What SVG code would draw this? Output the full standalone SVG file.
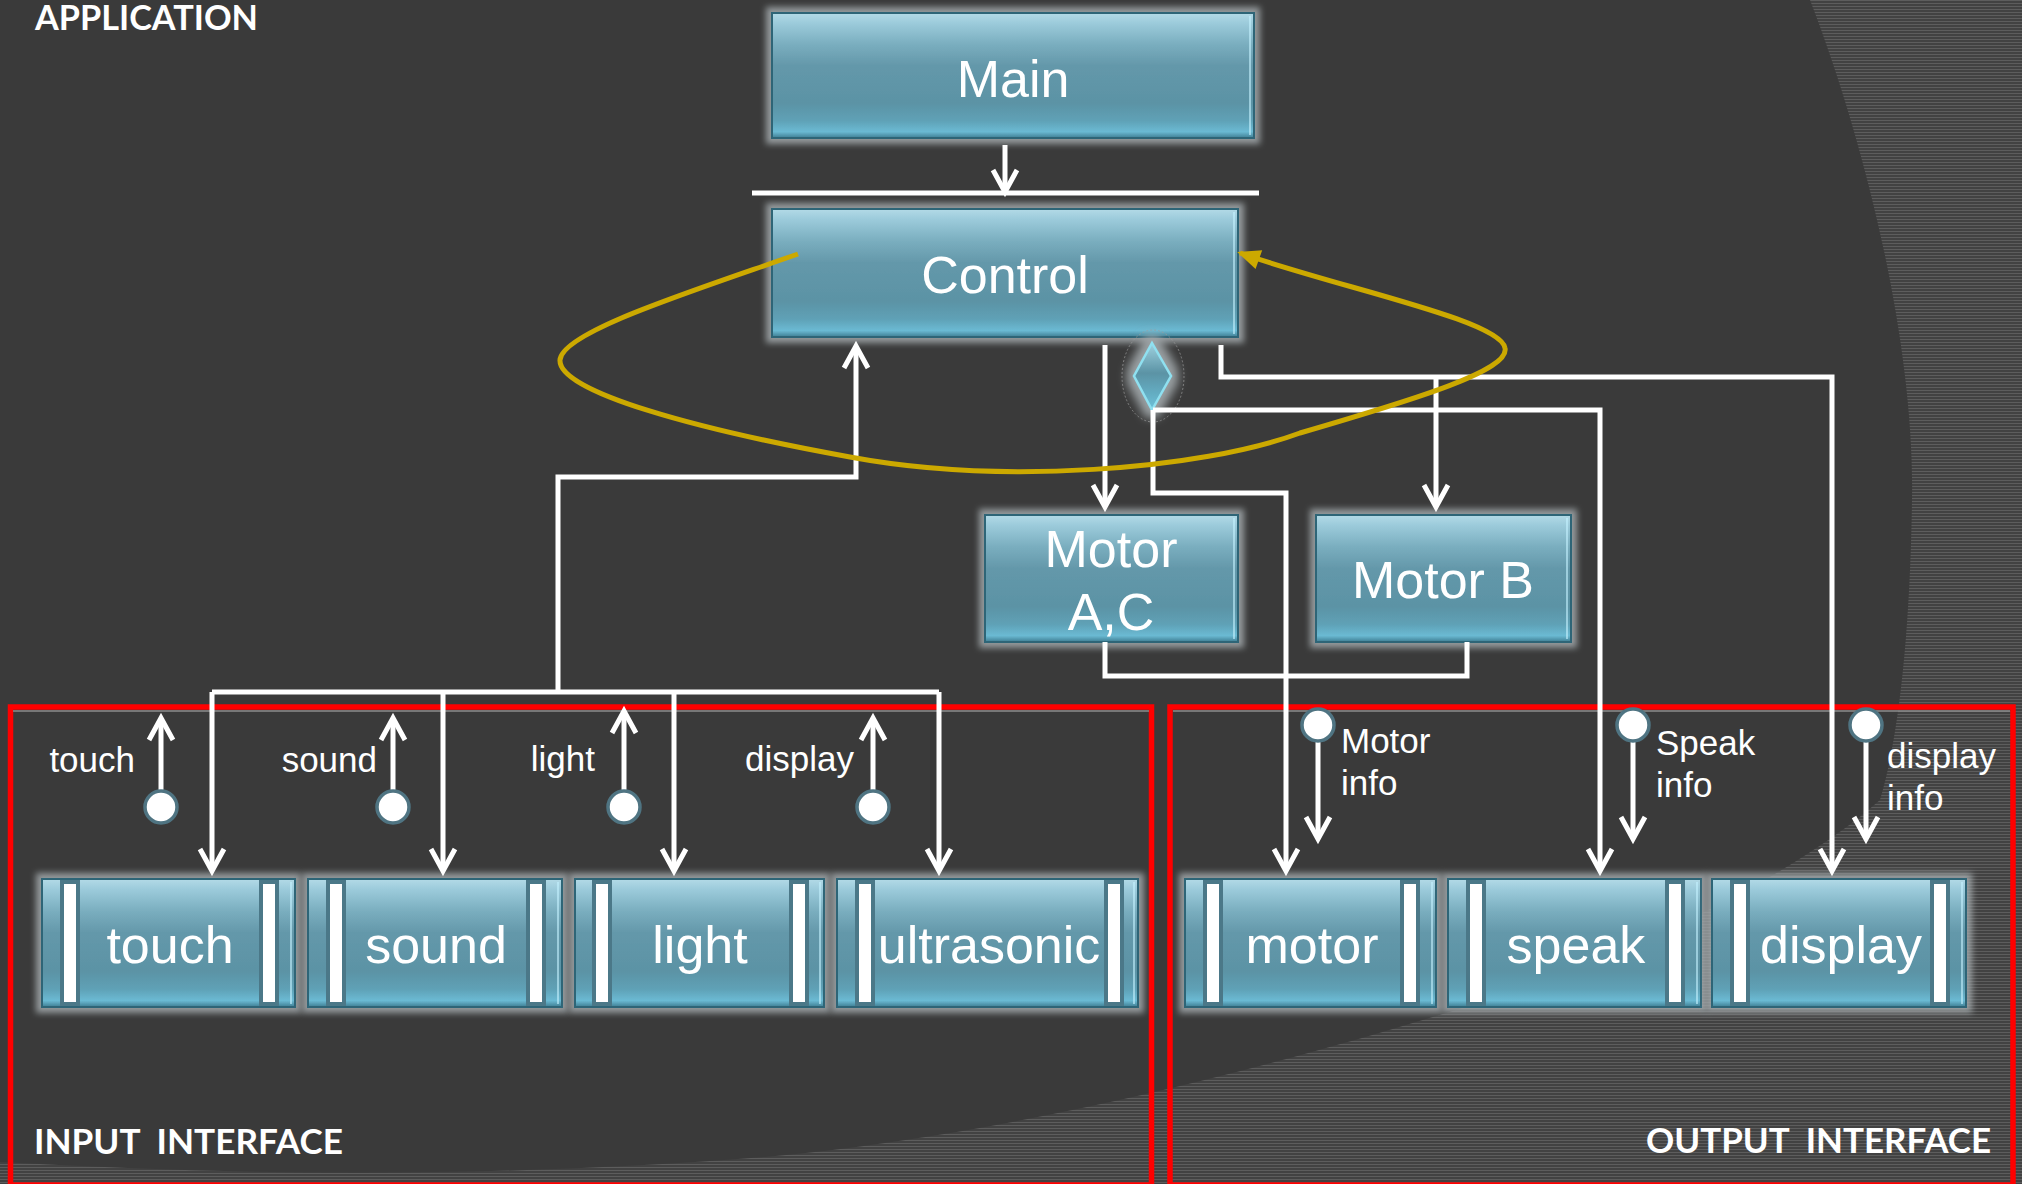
<svg xmlns="http://www.w3.org/2000/svg" width="2022" height="1184" viewBox="0 0 2022 1184">
  <defs>
    <style>
      .conn{fill:none;stroke:#ffffff;stroke-width:5;stroke-linejoin:miter}
      .arr{marker-end:url(#chev)}
      .txt{font-family:"Liberation Sans",Arial,sans-serif;fill:#ffffff}
      .big{font-size:52px;text-anchor:middle}
      .small{font-size:35px}
      .end{text-anchor:end}
      .sec{font-family:Lato,"Open Sans",sans-serif;font-weight:bold;font-size:35px;fill:#ffffff}
      .box{fill:url(#boxGrad);stroke:#2f6577;stroke-width:2}
      .barDark{fill:#4b7888}
      .barWhite{fill:#ffffff}
      .hl{stroke:#c4f2ff;stroke-width:1.5;opacity:0.8}
      .frame{fill:none;stroke:#ff0000;stroke-width:5.5}
      .frameIn{fill:none;stroke:#8c8c8c;stroke-width:1.5}
      .sensor{fill:#ffffff;stroke:#4f7482;stroke-width:3.5}
    </style>
    <linearGradient id="boxGrad" x1="0" y1="0" x2="0" y2="1">
      <stop offset="0" stop-color="#b3dae7"/>
      <stop offset="0.08" stop-color="#9ccbdb"/>
      <stop offset="0.25" stop-color="#7aaebf"/>
      <stop offset="0.42" stop-color="#6498aa"/>
      <stop offset="0.72" stop-color="#5b93a5"/>
      <stop offset="0.86" stop-color="#5fa1b6"/>
      <stop offset="0.95" stop-color="#6bbad3"/>
      <stop offset="1" stop-color="#3f7d92"/>
    </linearGradient>
    <linearGradient id="diaGrad" x1="0" y1="0" x2="0" y2="1">
      <stop offset="0" stop-color="#9fd2e0"/>
      <stop offset="0.45" stop-color="#5b93a5"/>
      <stop offset="1" stop-color="#6cc2da"/>
    </linearGradient>
    <filter id="glow" x="-10%" y="-20%" width="120%" height="140%">
      <feMorphology in="SourceAlpha" operator="dilate" radius="5" result="d"/>
      <feGaussianBlur in="d" stdDeviation="3" result="b"/>
      <feFlood flood-color="#a3aaad" flood-opacity="0.85"/>
      <feComposite in2="b" operator="in" result="g"/>
      <feMerge><feMergeNode in="g"/><feMergeNode in="SourceGraphic"/></feMerge>
    </filter>
    <filter id="glowDia" x="-80%" y="-40%" width="260%" height="180%">
      <feMorphology in="SourceAlpha" operator="dilate" radius="6" result="d"/>
      <feGaussianBlur in="d" stdDeviation="5" result="b"/>
      <feFlood flood-color="#a3aaad" flood-opacity="0.9"/>
      <feComposite in2="b" operator="in" result="g"/>
      <feMerge><feMergeNode in="g"/><feMergeNode in="SourceGraphic"/></feMerge>
    </filter>
    <pattern id="hatch" width="4" height="3" patternUnits="userSpaceOnUse">
      <rect width="4" height="3" fill="#424242"/>
      <rect width="4" height="1" fill="#5d5d5d"/>
    </pattern>
    <marker id="chev" markerUnits="userSpaceOnUse" orient="auto" refX="0" refY="0" markerWidth="40" markerHeight="40" style="overflow:visible">
      <path d="M-22,-12 L0,0 L-22,12" fill="none" stroke="#ffffff" stroke-width="5"/>
    </marker>
    <marker id="ytri" markerUnits="userSpaceOnUse" orient="auto" refX="0" refY="0" markerWidth="40" markerHeight="40" style="overflow:visible">
      <path d="M3,0 L-20,-10 L-20,10 Z" fill="#cca900"/>
    </marker>
  </defs>

  <!-- backdrop -->
  <rect width="2022" height="1184" fill="#3a3a3a"/>
  <path d="M1810,0 C1868,150 1915,350 1912,500 C1910,640 1898,740 1880,800 C1790,880 1620,960 1446,1013 C1260,1070 1010,1135 765,1157 C500,1178 250,1176 0,1162 L0,1184 L2022,1184 L2022,0 Z" fill="url(#hatch)"/>

  <!-- section frames -->
  <g id="frames">
    <rect class="frame" x="10.5" y="707" width="1141" height="478"/>
    <line class="frameIn" x1="13" y1="711" x2="1149" y2="711"/>
    <rect class="frame" x="1170" y="707" width="843" height="478"/>
    <line class="frameIn" x1="1173" y1="711" x2="2010" y2="711"/>
  </g>

  <!-- section titles -->
  <text class="sec" x="35" y="30" textLength="223" lengthAdjust="spacingAndGlyphs">APPLICATION</text>
  <text class="sec" x="34" y="1154" textLength="309" lengthAdjust="spacingAndGlyphs" xml:space="preserve">INPUT  INTERFACE</text>
  <text class="sec" x="1646" y="1153" textLength="345" lengthAdjust="spacingAndGlyphs" xml:space="preserve">OUTPUT  INTERFACE</text>

  <!-- application nodes -->
  <g id="main" filter="url(#glow)">
    <rect class="box" x="772" y="13" width="482" height="125"/>
    <line class="hl" x1="1250" y1="16" x2="1250" y2="135"/>
    <text class="txt big" x="1013" y="97">Main</text>
  </g>
  <g id="control" filter="url(#glow)">
    <rect class="box" x="772" y="209" width="466" height="128"/>
    <line class="hl" x1="1234" y1="212" x2="1234" y2="334"/>
    <text class="txt big" x="1005" y="293">Control</text>
  </g>
  <g id="motorAC" filter="url(#glow)">
    <rect class="box" x="985" y="515" width="253" height="127"/>
    <line class="hl" x1="1234" y1="518" x2="1234" y2="639"/>
    <text class="txt big" x="1111" y="567">Motor</text>
    <text class="txt big" x="1111" y="630">A,C</text>
  </g>
  <g id="motorB" filter="url(#glow)">
    <rect class="box" x="1316" y="515" width="255" height="127"/>
    <line class="hl" x1="1567" y1="518" x2="1567" y2="639"/>
    <text class="txt big" x="1443" y="598">Motor B</text>
  </g>
  <g id="decision">
    <ellipse cx="1153" cy="376" rx="31" ry="46" fill="none" stroke="#9a9a9a" stroke-width="1" stroke-dasharray="2 2" opacity="0.7"/>
    <path d="M1152,343 L1171,376 L1152,410 L1134,376 Z" fill="url(#diaGrad)" stroke="#8fe0f0" stroke-width="2.5" filter="url(#glowDia)"/>
  </g>

  <!-- input interface nodes -->
  <g id="touch" filter="url(#glow)">
    <rect class="box" x="42" y="879" width="253" height="128"/>
    <rect class="barDark" x="60" y="880" width="20" height="126"/>
    <rect class="barWhite" x="64" y="884" width="12" height="118"/>
    <rect class="barDark" x="259" y="880" width="20" height="126"/>
    <rect class="barWhite" x="263" y="884" width="12" height="118"/>
    <line class="hl" x1="291" y1="882" x2="291" y2="1004"/>
    <text class="txt big" x="170" y="963">touch</text>
  </g>
  <g id="sound" filter="url(#glow)">
    <rect class="box" x="308" y="879" width="254" height="128"/>
    <rect class="barDark" x="326" y="880" width="20" height="126"/>
    <rect class="barWhite" x="330" y="884" width="12" height="118"/>
    <rect class="barDark" x="526" y="880" width="20" height="126"/>
    <rect class="barWhite" x="530" y="884" width="12" height="118"/>
    <line class="hl" x1="558" y1="882" x2="558" y2="1004"/>
    <text class="txt big" x="436" y="963">sound</text>
  </g>
  <g id="light" filter="url(#glow)">
    <rect class="box" x="575" y="879" width="249" height="128"/>
    <rect class="barDark" x="592" y="880" width="20" height="126"/>
    <rect class="barWhite" x="596" y="884" width="12" height="118"/>
    <rect class="barDark" x="789" y="880" width="20" height="126"/>
    <rect class="barWhite" x="793" y="884" width="12" height="118"/>
    <line class="hl" x1="820" y1="882" x2="820" y2="1004"/>
    <text class="txt big" x="700" y="963">light</text>
  </g>
  <g id="ultrasonic" filter="url(#glow)">
    <rect class="box" x="837" y="879" width="301" height="128"/>
    <rect class="barDark" x="855" y="880" width="20" height="126"/>
    <rect class="barWhite" x="859" y="884" width="12" height="118"/>
    <rect class="barDark" x="1104" y="880" width="20" height="126"/>
    <rect class="barWhite" x="1108" y="884" width="12" height="118"/>
    <line class="hl" x1="1134" y1="882" x2="1134" y2="1004"/>
    <text class="txt big" x="989" y="963">ultrasonic</text>
  </g>

  <!-- output interface nodes -->
  <g id="motor" filter="url(#glow)">
    <rect class="box" x="1185" y="879" width="251" height="128"/>
    <rect class="barDark" x="1203" y="880" width="20" height="126"/>
    <rect class="barWhite" x="1207" y="884" width="12" height="118"/>
    <rect class="barDark" x="1400" y="880" width="20" height="126"/>
    <rect class="barWhite" x="1404" y="884" width="12" height="118"/>
    <line class="hl" x1="1432" y1="882" x2="1432" y2="1004"/>
    <text class="txt big" x="1312" y="963">motor</text>
  </g>
  <g id="speak" filter="url(#glow)">
    <rect class="box" x="1448" y="879" width="253" height="128"/>
    <rect class="barDark" x="1466" y="880" width="20" height="126"/>
    <rect class="barWhite" x="1470" y="884" width="12" height="118"/>
    <rect class="barDark" x="1665" y="880" width="20" height="126"/>
    <rect class="barWhite" x="1669" y="884" width="12" height="118"/>
    <line class="hl" x1="1697" y1="882" x2="1697" y2="1004"/>
    <text class="txt big" x="1576" y="963">speak</text>
  </g>
  <g id="display" filter="url(#glow)">
    <rect class="box" x="1712" y="879" width="254" height="128"/>
    <rect class="barDark" x="1730" y="880" width="20" height="126"/>
    <rect class="barWhite" x="1734" y="884" width="12" height="118"/>
    <rect class="barDark" x="1930" y="880" width="20" height="126"/>
    <rect class="barWhite" x="1934" y="884" width="12" height="118"/>
    <line class="hl" x1="1962" y1="882" x2="1962" y2="1004"/>
    <text class="txt big" x="1841" y="963">display</text>
  </g>

  <!-- connectors -->
  <g id="connectors">
    <line class="conn arr" x1="1005" y1="145" x2="1005" y2="192"/>
    <line class="conn" x1="752" y1="193" x2="1259" y2="193" stroke-width="4"/>

    <polyline class="conn arr" points="558,692 558,477 856,477 856,346"/>
    <polyline class="conn" points="212,692 939,692"/>
    <polyline class="conn arr" points="212,692 212,871"/>
    <polyline class="conn arr" points="443,692 443,871"/>
    <polyline class="conn arr" points="674,692 674,871"/>
    <polyline class="conn arr" points="939,692 939,871"/>

    <line class="conn arr" x1="1105" y1="345" x2="1105" y2="507"/>
    <polyline class="conn arr" points="1221,345 1221,377 1832,377 1832,871"/>
    <line class="conn arr" x1="1436" y1="377" x2="1436" y2="507"/>
    <polyline class="conn arr" points="1153,410 1600,410 1600,871"/>
    <polyline class="conn arr" points="1153,410 1153,493 1286,493 1286,871"/>
    <polyline class="conn" points="1105,642 1105,676 1467,676 1467,642"/>

    <!-- sensor readings going up -->
    <line class="conn arr" x1="161" y1="791" x2="161" y2="718"/>
    <line class="conn arr" x1="393" y1="791" x2="393" y2="718"/>
    <line class="conn arr" x1="624" y1="791" x2="624" y2="711"/>
    <line class="conn arr" x1="873" y1="791" x2="873" y2="718"/>
    <!-- actuator commands going down -->
    <line class="conn arr" x1="1318" y1="741" x2="1318" y2="839"/>
    <line class="conn arr" x1="1633" y1="741" x2="1633" y2="839"/>
    <line class="conn arr" x1="1866" y1="741" x2="1866" y2="839"/>

    <!-- control loop -->
    <path d="M798,254 C690,292 562,332 560,360 C558,392 700,430 850,457 C1000,485 1200,470 1300,433 C1420,398 1510,370 1505,348 C1500,320 1340,288 1240,253" fill="none" stroke="#cca900" stroke-width="5" marker-end="url(#ytri)"/>
  </g>

  <!-- interface ports -->
  <g id="ports">
    <circle class="sensor" cx="161" cy="807" r="16"/>
    <circle class="sensor" cx="393" cy="807" r="16"/>
    <circle class="sensor" cx="624" cy="807" r="16"/>
    <circle class="sensor" cx="873" cy="807" r="16"/>
    <circle class="sensor" cx="1318" cy="725" r="16"/>
    <circle class="sensor" cx="1633" cy="725" r="16"/>
    <circle class="sensor" cx="1866" cy="725" r="16"/>
  </g>

  <!-- port labels -->
  <g id="portLabels">
    <text class="txt small end" x="135" y="772">touch</text>
    <text class="txt small end" x="377" y="772">sound</text>
    <text class="txt small end" x="595" y="771">light</text>
    <text class="txt small end" x="854" y="771">display</text>
    <text class="txt small" x="1341" y="753">Motor</text>
    <text class="txt small" x="1341" y="795">info</text>
    <text class="txt small" x="1656" y="755">Speak</text>
    <text class="txt small" x="1656" y="797">info</text>
    <text class="txt small" x="1887" y="768">display</text>
    <text class="txt small" x="1887" y="810">info</text>
  </g>
</svg>
